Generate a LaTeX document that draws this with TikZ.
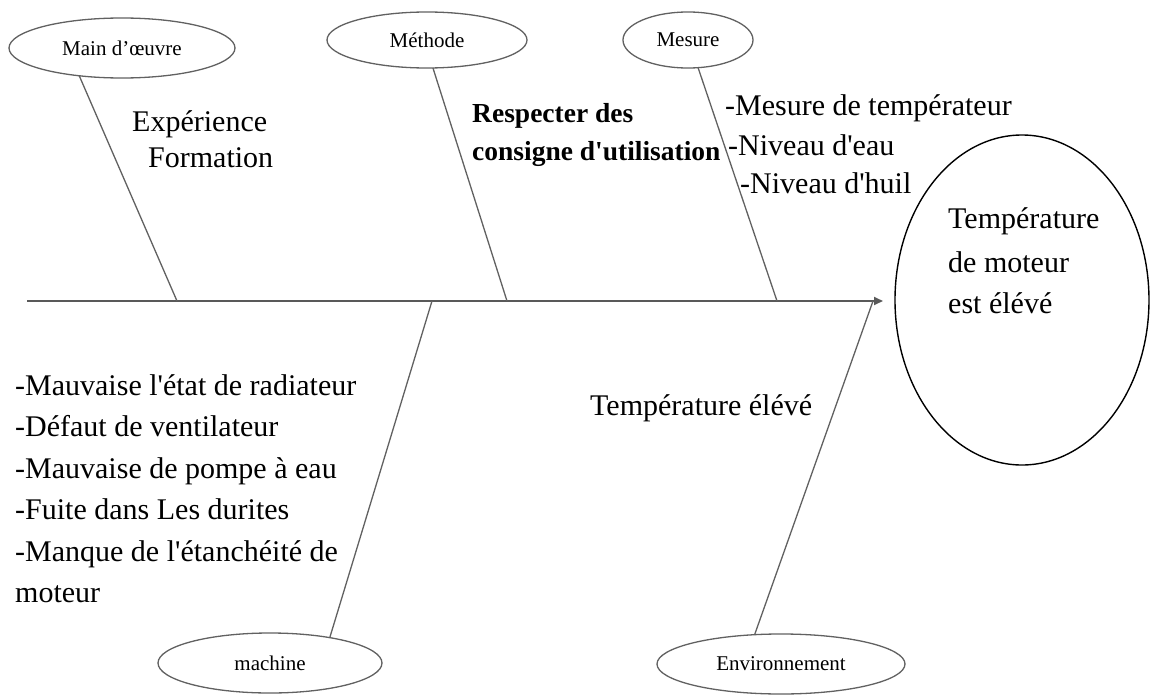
\documentclass[tikz,border=0pt]{standalone}
\usepackage{fontspec}
\setmainfont{Liberation Serif}
\usetikzlibrary{shapes.geometric,arrows.meta}

% straight apostrophe
\newcommand{\apo}{\textquotesingle}

\tikzset{
  cat/.style={ellipse, draw=black!62, line width=1.3pt, inner sep=0pt, outer sep=0pt,
              font=\fontsize{21}{24}\selectfont},
  bone/.style={draw=black!62, line width=1.3pt},
  spine/.style={draw=black!65, line width=1.8pt},
  effect/.style={ellipse, draw=black, line width=1.4pt, inner sep=0pt, outer sep=0pt},
  txt/.style={anchor=base west, inner sep=0pt, font=\fontsize{30}{36}\selectfont},
  btxt/.style={anchor=base west, inner sep=0pt, font=\fontsize{27.5}{33}\selectfont\bfseries},
}

\begin{document}
\begin{tikzpicture}[x=1pt,y=-1pt]
\useasboundingbox[fill=white] (0,0) rectangle (1152,696);

% effect
\node[effect, minimum width=254pt, minimum height=330pt] (eff) at (1022,300) {};

% category ellipses
\node[cat, minimum width=226pt, minimum height=60pt] (mo) at (122,48) {Main d’œuvre};
\node[cat, minimum width=200pt, minimum height=56pt] (me) at (427,40) {Méthode};
\node[cat, minimum width=130pt, minimum height=56pt] (ms) at (688,40) {Mesure};
\node[cat, minimum width=224pt, minimum height=60pt] (ma) at (270,663) {machine};
\node[cat, minimum width=248pt, minimum height=60pt] (en) at (781,664) {Environnement};

% spine and its attachment points
\coordinate (spL) at (27,301);
\coordinate (jMO) at (177,301);
\coordinate (jME) at (507,301);
\coordinate (jMS) at (777,301);
\coordinate (jMA) at (432,301);
\coordinate (jEN) at (873,301);
\draw[spine, -{Triangle[length=9pt,width=8pt]}] (spL) -- ([xshift=-12pt]eff.west |- spL);

% bones
\draw[bone] (mo.213) -- (jMO);
\draw[bone] (me.282) -- (jME);
\draw[bone] (ms.290) -- (jMS);
\draw[bone] (ma.23) -- (jMA);
\draw[bone] (en.132) -- (jEN);

% causes
\node[txt] (t1) at (132,131) {Expérience};
\node[txt] (t2) at (148,167) {Formation};

\node[btxt] (t3) at (472,122) {Respecter des};
\node[btxt] (t4) at (472,160) {consigne d\apo utilisation};

\node[txt] (t5) at (725,115) {-Mesure de températeur};
\node[txt] (t6) at (728,155) {-Niveau d\apo eau};
\node[txt] (t7) at (740,193) {-Niveau d\apo huil};

\node[txt] (e1) at (948,228) {Température};
\node[txt] (e2) at (948,272) {de moteur};
\node[txt] (e3) at (948,313) {est élévé};

\node[txt] (t8) at (590,415) {Température élévé};

\node[txt] (m1) at (15,395) {-Mauvaise l\apo état de radiateur};
\node[txt] (m2) at (15,436.5) {-Défaut de ventilateur};
\node[txt] (m3) at (15,478) {-Mauvaise de pompe à eau};
\node[txt] (m4) at (15,519.5) {-Fuite dans Les durites};
\node[txt] (m5) at (15,561) {-Manque de l\apo étanchéité de};
\node[txt] (m6) at (15,602) {moteur};
\end{tikzpicture}
\end{document}
